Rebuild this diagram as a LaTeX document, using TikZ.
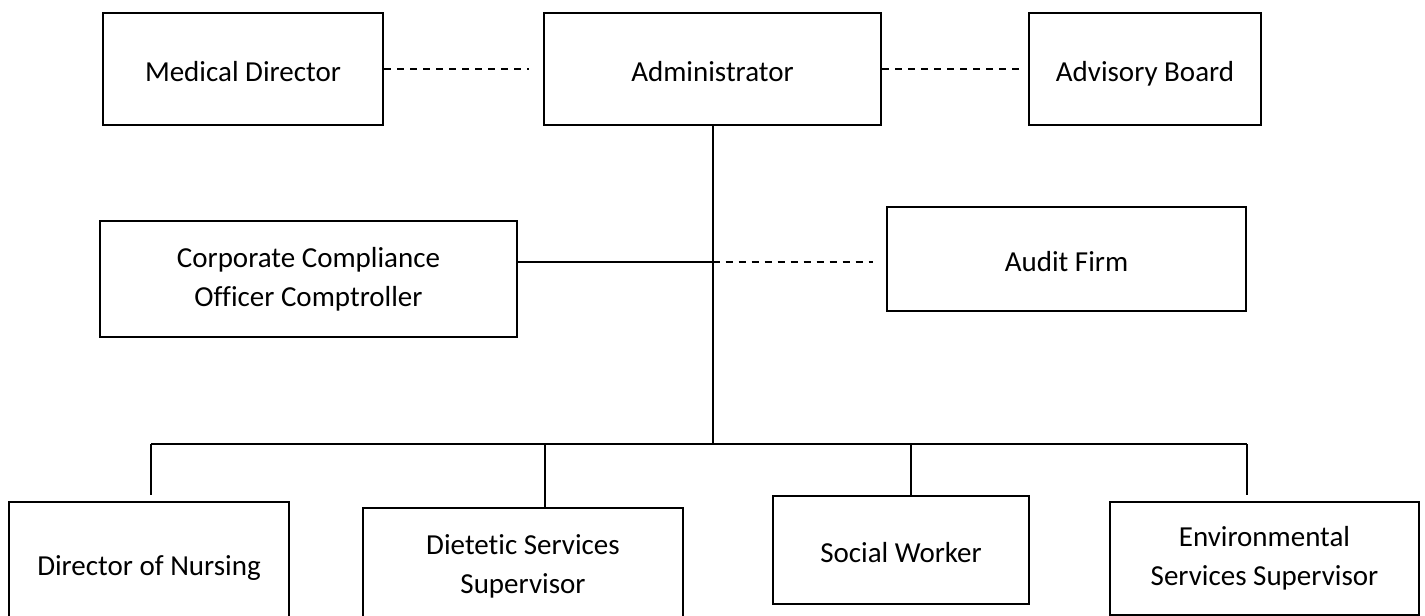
\documentclass[tikz,border=0pt]{standalone}
\usepackage{fontspec}
\setmainfont{Carlito}[Ligatures=CommonOff]
\usepackage{tikz}

\begin{document}
\begin{tikzpicture}[x=0.5pt, y=-0.5pt, font=\fontsize{14.5}{19.5}\selectfont,
	unit/.style={draw, line width=1.1pt, align=center, inner sep=0pt},
	single/.style={unit, text height=1.2em, text depth=0pt},
	link/.style={line width=1pt},
	weak/.style={line width=0.9pt, dash pattern=on 3.5pt off 3pt}]
\path[use as bounding box, clip] (0,0) rectangle (1425,616);

% top row
\node[single, minimum width=140pt, minimum height=56pt] (med) at (243,69) {Medical Director};
\node[single, minimum width=168.5pt, minimum height=56pt] (admin) at (712.5,69) {Administrator};
\node[single, minimum width=116pt, minimum height=56pt] (advisory) at (1145,69) {Advisory Board};

% middle row
\node[unit, minimum width=208.5pt, minimum height=58pt] (corp) at (308.5,279) {Corporate Compliance\\Officer Comptroller};
\node[single, minimum width=179.5pt, minimum height=52pt] (audit) at (1066.5,259) {Audit Firm};

% bottom row
\node[unit, anchor=north, minimum width=140pt, minimum height=66pt] (nursing) at (149,501) {Director of Nursing};
\node[unit, anchor=north, minimum width=160pt, minimum height=58pt] (dietetic) at (523,507) {Dietetic Services\\Supervisor};
\node[single, anchor=north, minimum width=128pt, minimum height=54pt] (social) at (901,495) {Social Worker};
\node[unit, anchor=north, minimum width=154.5pt, minimum height=56.5pt] (environ) at (1264.5,501) {Environmental\\Services Supervisor};

% dotted ties
\draw[weak] (med.east) -- ([xshift=-7pt]admin.west);
\draw[weak] (admin.east) -- ([xshift=-1.5pt]advisory.west);

% main line
\coordinate (hub) at (712.5,262);
\coordinate (bus) at (712.5,444);
\draw[link] (admin.south) -- (bus);
\draw[link] (hub) -- (hub -| corp.east);
\draw[weak] (hub) -- ([xshift=-6.5pt]hub -| audit.west);

% bus and drops
\coordinate (busL) at (151,444);
\coordinate (busD) at (545,444);
\coordinate (busS) at (911,444);
\coordinate (busR) at (1247,444);
\draw[link] (busL) -- (busR);
\draw[link] (busL) -- ([yshift=3pt]nursing.north -| busL);
\draw[link] (busD) -- (dietetic.north -| busD);
\draw[link] (busS) -- (social.north -| busS);
\draw[link] (busR) -- ([yshift=3pt]environ.north -| busR);
\end{tikzpicture}
\end{document}
